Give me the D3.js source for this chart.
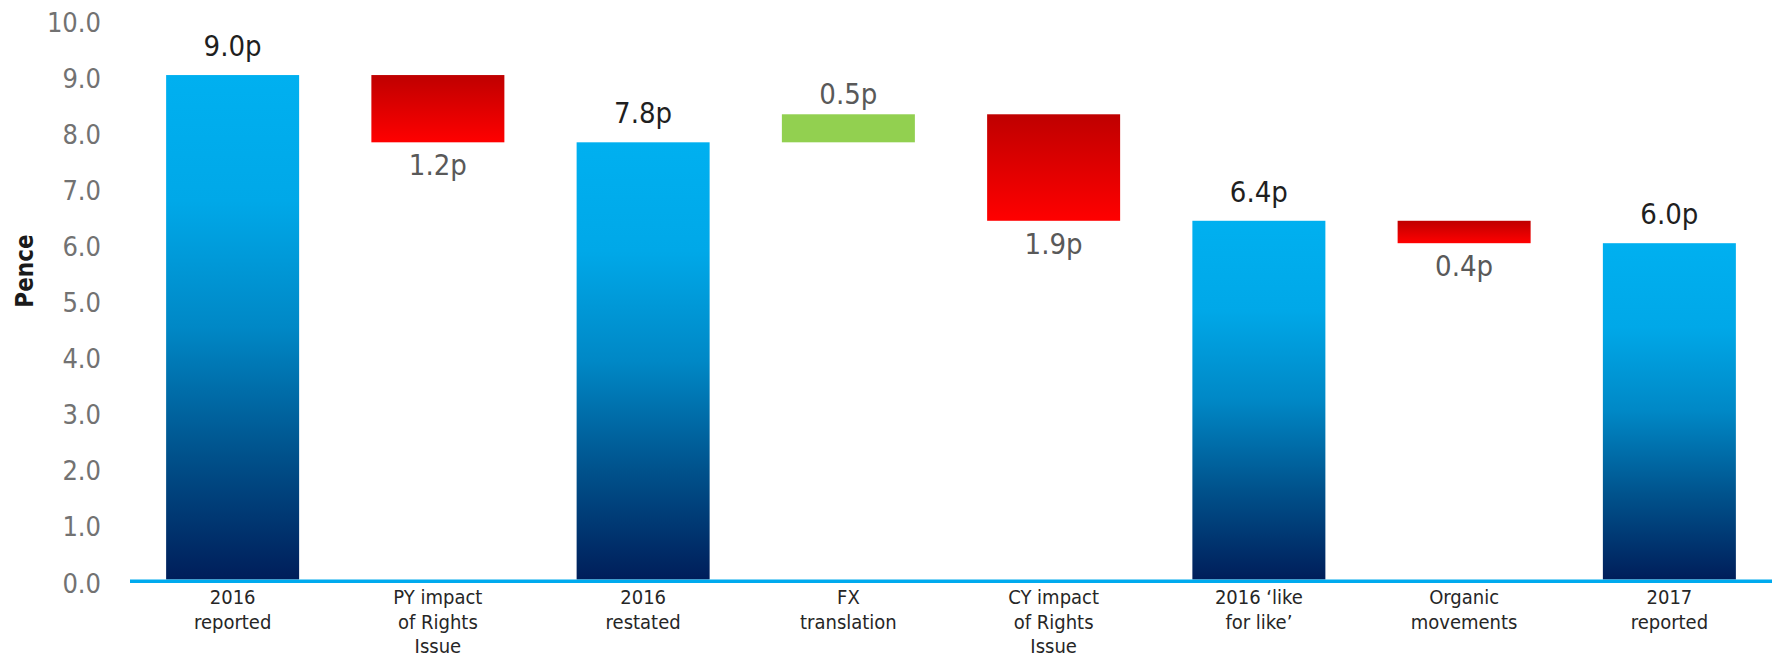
<!DOCTYPE html>
<html>
<head>
<meta charset="utf-8">
<script src="https://cdn.jsdelivr.net/npm/d3@7"></script>
<style>
  html, body { margin: 0; padding: 0; background: #fff; }
  svg { display: block; }
  text { font-family: "DejaVu Sans Condensed", "DejaVu Sans", sans-serif; }
</style>
</head>
<body>
<svg id="chart" width="1773" height="660"></svg>
<script>
// ---- data ----
const categories = [
  "2016\nreported",
  "PY impact\nof Rights\nIssue",
  "2016\nrestated",
  "FX\ntranslation",
  "CY impact\nof Rights\nIssue",
  "2016 \u2018like\nfor like\u2019",
  "Organic\nmovements",
  "2017\nreported"
];
const values = [9.0, -1.2, 7.8, 0.5, -1.9, 6.4, -0.4, 6.0];
const kinds  = ["total", "delta", "total", "delta", "delta", "total", "delta", "total"];
const yTicks = [0, 1, 2, 3, 4, 5, 6, 7, 8, 9, 10];
const yTitle = "Pence";

// ---- build waterfall segments ----
let running = 0;
const bars = categories.map((c, i) => {
  const v = values[i];
  let lo, hi;
  if (kinds[i] === "total") { lo = 0; hi = v; running = v; }
  else { const s = running; running = s + v; lo = Math.min(s, running); hi = Math.max(s, running); }
  return { cat: c, v, kind: kinds[i], lo, hi };
});

const svg = d3.select("#chart");

const x = d3.scaleBand().domain(categories).range([130, 1772])
  .paddingInner(0.352).paddingOuter(0.176);
const y = d3.scaleLinear().domain([0, 10]).range([579.5, 19]);

// gradients
const defs = svg.append("defs");
const gBlue = defs.append("linearGradient").attr("id", "gBlue")
  .attr("x1", 0).attr("y1", 0).attr("x2", 0).attr("y2", 1);
[[0, "#00B0F0"], [0.25, "#00A8E8"], [0.5, "#0088C6"], [0.75, "#00528C"], [1, "#001E5A"]]
  .forEach(([o, c]) => gBlue.append("stop").attr("offset", o).attr("stop-color", c));
const gRed = defs.append("linearGradient").attr("id", "gRed")
  .attr("x1", 0).attr("y1", 0).attr("x2", 0).attr("y2", 1);
[[0, "#BF0000"], [1, "#FF0000"]]
  .forEach(([o, c]) => gRed.append("stop").attr("offset", o).attr("stop-color", c));

// y axis tick labels
svg.append("g").selectAll("text").data(yTicks).join("text")
  .attr("x", 101).attr("y", d => y(d) + 13)
  .attr("text-anchor", "end")
  .attr("font-size", 27)
  .attr("fill", "#727272")
  .text(d3.format(".1f"));

// y title
svg.append("text")
  .attr("transform", `translate(33, 271) rotate(-90)`)
  .attr("text-anchor", "middle")
  .attr("font-size", 24).attr("font-weight", "bold")
  .attr("fill", "#1a1a1a")
  .text(yTitle);

// bars
const fillFor = d => d.kind === "total" ? "url(#gBlue)" : (d.v < 0 ? "url(#gRed)" : "#92D050");
svg.append("g").selectAll("rect").data(bars).join("rect")
  .attr("x", d => x(d.cat))
  .attr("width", x.bandwidth())
  .attr("y", d => y(d.hi))
  .attr("height", d => y(d.lo) - y(d.hi))
  .attr("fill", fillFor);

// baseline axis line
svg.append("line")
  .attr("x1", x.range()[0]).attr("x2", x.range()[1])
  .attr("y1", y(0) + 1.8).attr("y2", y(0) + 1.8)
  .attr("stroke", "#00AAEE").attr("stroke-width", 3.6);

// value labels
svg.append("g").selectAll("text").data(bars).join("text")
  .attr("x", d => x(d.cat) + x.bandwidth() / 2)
  .attr("y", d => {
    if (d.kind === "total") return y(d.hi) - 19;
    if (d.v >= 0) return y(d.hi) - 10;
    return y(d.lo) + 33;
  })
  .attr("text-anchor", "middle")
  .attr("font-size", 29)
  .attr("fill", d => d.kind === "total" ? "#1f1f1f" : "#595959")
  .text(d => Math.abs(d.v).toFixed(1) + "p");

// category labels
const cl = svg.append("g").selectAll("text").data(categories).join("text")
  .attr("x", d => x(d) + x.bandwidth() / 2)
  .attr("y", 604)
  .attr("text-anchor", "middle")
  .attr("font-size", 20)
  .attr("fill", "#262626");
cl.each(function(d) {
  const t = d3.select(this);
  d.split("\n").forEach((line, i) => {
    t.append("tspan").attr("x", x(d) + x.bandwidth() / 2)
      .attr("dy", i === 0 ? 0 : 24.5).text(line);
  });
});
</script>
</body>
</html>
